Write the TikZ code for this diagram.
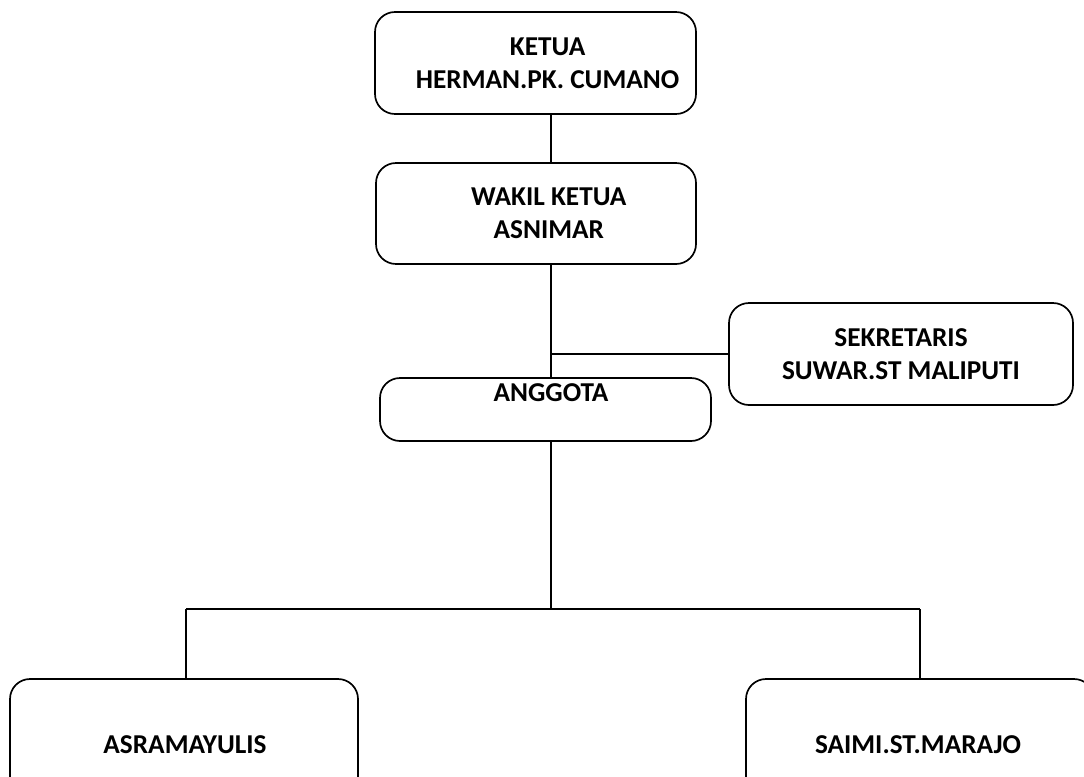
\documentclass[tikz,border=0pt]{standalone}
\usepackage{fontspec}
\setmainfont{Carlito}

\begin{document}
\begin{tikzpicture}[scale=1]
                \tikzset{Kotak/.style= {draw, rounded corners=0.5cm, line width=1.2pt, align=center,
                                        font=\fontsize{19.4}{23.5}\selectfont\bfseries},
                         Teks/.style= {align=center, font=\fontsize{19.4}{23.5}\selectfont\bfseries},
                         Garis/.style= {line width=1.2pt}}
                \useasboundingbox (0,0) rectangle (27.1,-19.425);
                \clip (0,0) rectangle (27.1,-19.425);
                \coordinate (Tulang) at (13.775,0);
                \coordinate (Cabang) at (13.775,-15.225);
                \coordinate (KiriC) at (4.65,-15.225);
                \coordinate (KananC) at (23.0,-15.225);
                \node[Kotak, minimum width=8.025cm, minimum height=2.55cm] (Ketua) at (13.3875,-1.575) {};
                \node[Teks] (KetuaT) at (13.69,-1.575) {KETUA\\HERMAN.PK. CUMANO};
                \node[Kotak, minimum width=8.0cm, minimum height=2.525cm] (Wakil) at (13.4,-5.3375) {};
                \node[Teks] (WakilT) at (13.72,-5.3375) {WAKIL KETUA\\ASNIMAR};
                \node[Kotak, minimum width=8.6cm, minimum height=2.55cm] (Sekretaris) at (22.525,-8.85) {SEKRETARIS\\SUWAR.ST MALIPUTI};
                \node[Kotak, minimum width=8.275cm, minimum height=1.575cm] (Anggota) at (13.6375,-10.2375) {};
                \node[Teks] (AnggotaT) at (13.775,-9.825) {ANGGOTA};
                \node[Kotak, minimum width=8.7cm, minimum height=4.2cm] (Asra) at (4.6,-19.075) {};
                \node[Teks] (AsraT) at (4.625,-18.625) {ASRAMAYULIS};
                \node[Kotak, minimum width=8.7cm, minimum height=4.2cm] (Saimi) at (23.0,-19.075) {};
                \node[Teks] (SaimiT) at (22.95,-18.625) {SAIMI.ST.MARAJO};
                \draw[Garis] (Ketua.south -| Tulang) -- (Wakil.north -| Tulang);
                \draw[Garis] (Wakil.south -| Tulang) -- (Anggota.north -| Tulang);
                \draw[Garis] (Tulang |- Sekretaris.west) -- (Sekretaris.west);
                \draw[Garis] (Anggota.south -| Tulang) -- (Cabang);
                \draw[Garis] (KiriC) -- (KananC);
                \draw[Garis] (KiriC) -- (KiriC |- Asra.north);
                \draw[Garis] (KananC) -- (KananC |- Saimi.north);
            \end{tikzpicture}
\end{document}
